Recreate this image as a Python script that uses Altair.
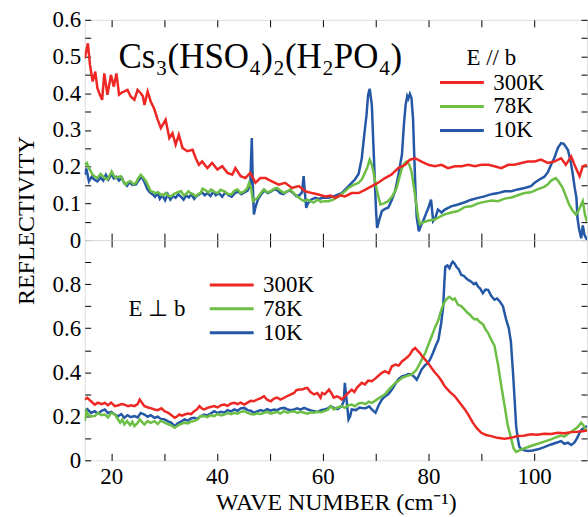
import altair as alt
import pandas as pd

# ---------------- data ----------------
series_names = ["300K", "78K", "10K"]
series_colors = ["#ED2824", "#6CBE45", "#2457A5"]

# Top panel: E // b
top_red_x = [15.0, 15.6, 16.0, 16.5, 17.0, 17.4, 17.9, 18.3, 18.7, 19.3, 19.96, 20.5, 21.0, 21.5, 22.0, 22.5, 23.1, 23.7, 24.4, 25.0, 25.6, 26.0, 26.3, 26.9, 27.5, 28.1, 28.8, 29.4, 29.9, 30.3, 31.0, 31.6, 32.2, 32.8, 33.5, 34.4, 35.4, 36.0, 36.6, 37.2, 38.2, 39.1, 40.1, 41.0, 42.0, 42.9, 43.5, 44.5, 45.4, 46.3, 47.3, 48.2, 49.2, 50.4, 51.7, 52.9, 54.2, 55.5, 56.7, 58.0, 59.2, 60.5, 61.5, 62.4, 63.3, 64.2, 65.5, 66.8, 68.0, 69.3, 70.5, 71.8, 73.0, 74.3, 75.6, 76.5, 77.5, 78.7, 80.0, 81.2, 82.5, 83.7, 85.0, 86.3, 87.5, 88.8, 90.0, 91.3, 92.5, 93.8, 95.1, 96.3, 97.6, 98.8, 100.1, 101.3, 102.6, 103.8, 105.1, 106.0, 107.0, 107.9, 108.6, 109.2, 110.0]
top_red_y = [0.495, 0.536, 0.477, 0.432, 0.459, 0.414, 0.395, 0.382, 0.454, 0.396, 0.450, 0.418, 0.454, 0.396, 0.402, 0.405, 0.409, 0.391, 0.382, 0.409, 0.400, 0.392, 0.368, 0.405, 0.377, 0.359, 0.328, 0.305, 0.318, 0.328, 0.278, 0.291, 0.260, 0.287, 0.251, 0.242, 0.246, 0.223, 0.205, 0.214, 0.196, 0.210, 0.192, 0.201, 0.183, 0.178, 0.196, 0.174, 0.169, 0.183, 0.156, 0.169, 0.169, 0.160, 0.151, 0.156, 0.142, 0.147, 0.133, 0.128, 0.124, 0.119, 0.121, 0.115, 0.122, 0.119, 0.128, 0.128, 0.137, 0.147, 0.156, 0.169, 0.178, 0.196, 0.205, 0.219, 0.223, 0.214, 0.205, 0.201, 0.205, 0.196, 0.201, 0.201, 0.205, 0.201, 0.205, 0.205, 0.201, 0.196, 0.205, 0.205, 0.210, 0.214, 0.214, 0.219, 0.210, 0.214, 0.223, 0.205, 0.228, 0.196, 0.174, 0.201, 0.205]

top_green_x = [15.0, 15.4, 15.8, 16.5, 17.0, 17.4, 18.0, 18.4, 18.9, 19.3, 19.7, 20.1, 20.5, 20.9, 21.4, 21.8, 22.3, 22.8, 23.2, 23.7, 24.2, 24.7, 25.1, 25.6, 26.1, 26.6, 27.1, 27.5, 28.0, 28.4, 28.9, 29.4, 29.9, 30.3, 30.8, 31.3, 31.8, 32.2, 32.7, 33.2, 33.7, 34.1, 34.6, 35.0, 35.5, 36.0, 36.5, 36.9, 37.3, 37.8, 38.4, 38.9, 39.5, 40.1, 40.7, 41.4, 42.0, 42.7, 43.3, 43.9, 44.5, 45.2, 45.7, 46.1, 46.5, 46.8, 47.2, 47.7, 48.3, 48.9, 49.5, 50.2, 50.8, 51.4, 52.0, 52.7, 53.3, 53.9, 54.5, 55.2, 55.8, 56.5, 57.1, 57.7, 58.3, 59.0, 59.7, 60.3, 61.1, 62.0, 63.0, 64.0, 64.9, 65.8, 66.8, 67.4, 68.0, 68.5, 68.9, 69.3, 69.6, 70.2, 70.9, 71.6, 72.4, 73.2, 74.0, 74.5, 75.0, 75.5, 75.9, 76.4, 76.8, 77.3, 77.8, 78.1, 78.4, 79.0, 79.7, 80.4, 81.2, 82.2, 83.1, 84.3, 85.6, 86.9, 88.1, 89.4, 90.6, 92.0, 93.2, 94.4, 95.7, 96.9, 98.2, 99.4, 100.6, 101.9, 102.6, 103.2, 104.1, 104.6, 105.4, 106.0, 106.6, 107.3, 107.9, 108.4, 108.9, 109.2, 109.6, 110.0]
top_green_y = [0.205, 0.210, 0.196, 0.178, 0.172, 0.169, 0.180, 0.174, 0.168, 0.165, 0.175, 0.187, 0.176, 0.169, 0.172, 0.174, 0.160, 0.151, 0.158, 0.160, 0.152, 0.156, 0.168, 0.178, 0.170, 0.160, 0.145, 0.133, 0.131, 0.128, 0.130, 0.124, 0.122, 0.128, 0.121, 0.119, 0.125, 0.128, 0.131, 0.133, 0.122, 0.124, 0.133, 0.128, 0.125, 0.119, 0.126, 0.128, 0.140, 0.136, 0.130, 0.138, 0.131, 0.128, 0.137, 0.133, 0.126, 0.124, 0.134, 0.138, 0.128, 0.133, 0.140, 0.156, 0.140, 0.106, 0.110, 0.115, 0.128, 0.138, 0.130, 0.133, 0.140, 0.142, 0.135, 0.128, 0.133, 0.138, 0.128, 0.119, 0.112, 0.106, 0.110, 0.106, 0.102, 0.110, 0.104, 0.106, 0.106, 0.110, 0.119, 0.130, 0.142, 0.150, 0.156, 0.165, 0.183, 0.200, 0.219, 0.205, 0.187, 0.140, 0.097, 0.100, 0.106, 0.120, 0.142, 0.170, 0.196, 0.210, 0.214, 0.205, 0.187, 0.140, 0.088, 0.060, 0.043, 0.048, 0.052, 0.054, 0.056, 0.064, 0.070, 0.075, 0.079, 0.090, 0.092, 0.100, 0.104, 0.108, 0.106, 0.113, 0.116, 0.122, 0.128, 0.130, 0.138, 0.145, 0.152, 0.162, 0.169, 0.160, 0.142, 0.120, 0.097, 0.080, 0.070, 0.080, 0.097, 0.106, 0.070, 0.050]

top_blue_x = [15.0, 15.3, 15.8, 16.3, 16.8, 17.4, 18.0, 18.5, 19.0, 19.5, 20.1, 20.5, 21.0, 21.5, 22.0, 22.5, 23.0, 23.5, 24.0, 24.7, 25.3, 25.8, 26.3, 26.8, 27.3, 27.8, 28.3, 28.8, 29.2, 29.7, 30.2, 30.7, 31.2, 31.7, 32.2, 32.7, 33.2, 33.7, 34.2, 34.7, 35.2, 35.7, 36.2, 36.7, 37.2, 37.7, 38.2, 38.8, 39.3, 39.8, 40.4, 41.0, 41.6, 42.2, 42.8, 43.4, 44.0, 44.6, 45.2, 45.8, 46.3, 46.6, 46.8, 47.0, 47.3, 47.8, 48.4, 49.0, 49.6, 50.2, 50.8, 51.4, 52.0, 52.6, 53.2, 53.8, 54.4, 55.0, 55.6, 56.1, 56.4, 56.7, 56.9, 57.2, 57.8, 58.6, 59.3, 60.0, 61.1, 62.3, 63.6, 64.9, 66.1, 66.8, 67.4, 67.9, 68.3, 68.6, 68.9, 69.3, 69.6, 69.8, 70.1, 70.3, 70.7, 71.2, 71.8, 72.4, 73.1, 73.7, 74.3, 75.0, 75.4, 75.7, 76.0, 76.2, 76.5, 76.8, 77.1, 77.3, 77.6, 77.8, 78.2, 78.6, 79.0, 79.5, 80.0, 80.5, 80.9, 81.3, 81.8, 82.5, 83.1, 84.3, 85.6, 86.9, 88.1, 89.4, 90.6, 91.9, 93.2, 94.4, 95.7, 96.9, 98.2, 99.4, 100.1, 101.0, 101.9, 102.6, 103.2, 103.8, 104.5, 105.1, 105.6, 106.4, 106.9, 107.3, 107.7, 108.0, 108.2, 108.5, 108.9, 109.2, 109.5, 110.0]
top_blue_y = [0.178, 0.195, 0.160, 0.172, 0.165, 0.160, 0.170, 0.162, 0.178, 0.165, 0.180, 0.168, 0.172, 0.162, 0.170, 0.155, 0.148, 0.158, 0.150, 0.152, 0.165, 0.172, 0.158, 0.140, 0.130, 0.125, 0.118, 0.128, 0.112, 0.122, 0.108, 0.125, 0.110, 0.120, 0.115, 0.125, 0.118, 0.110, 0.122, 0.116, 0.125, 0.112, 0.120, 0.125, 0.130, 0.122, 0.128, 0.120, 0.132, 0.122, 0.128, 0.118, 0.130, 0.122, 0.118, 0.128, 0.132, 0.125, 0.130, 0.135, 0.150, 0.278, 0.150, 0.070, 0.090, 0.112, 0.125, 0.135, 0.128, 0.132, 0.138, 0.136, 0.128, 0.125, 0.132, 0.135, 0.128, 0.120, 0.122, 0.130, 0.174, 0.120, 0.088, 0.100, 0.110, 0.115, 0.112, 0.115, 0.115, 0.120, 0.128, 0.147, 0.165, 0.180, 0.223, 0.290, 0.341, 0.395, 0.412, 0.369, 0.260, 0.187, 0.080, 0.033, 0.055, 0.079, 0.085, 0.088, 0.110, 0.133, 0.175, 0.233, 0.320, 0.369, 0.392, 0.385, 0.398, 0.387, 0.330, 0.242, 0.120, 0.061, 0.024, 0.040, 0.052, 0.070, 0.088, 0.110, 0.052, 0.060, 0.083, 0.075, 0.083, 0.092, 0.097, 0.103, 0.110, 0.115, 0.119, 0.125, 0.128, 0.133, 0.133, 0.138, 0.142, 0.147, 0.156, 0.165, 0.172, 0.185, 0.205, 0.223, 0.251, 0.264, 0.262, 0.245, 0.215, 0.180, 0.140, 0.115, 0.060, 0.030, 0.005, 0.040, 0.015, 0.000]

# Bottom panel: E ⊥ b
bot_red_x = [15.0, 15.5, 16.2, 16.9, 17.5, 18.2, 18.8, 19.4, 20.0, 20.7, 21.4, 22.0, 22.5, 23.2, 23.8, 24.4, 25.0, 25.4, 25.8, 26.3, 27.0, 27.6, 28.2, 28.8, 29.5, 30.1, 30.8, 31.4, 32.0, 32.5, 32.9, 33.4, 33.9, 34.5, 35.1, 35.7, 36.2, 36.7, 37.2, 37.6, 38.2, 38.8, 39.5, 40.1, 40.8, 41.4, 42.0, 42.7, 43.3, 43.9, 44.5, 45.2, 45.8, 46.4, 47.0, 47.6, 48.3, 48.9, 49.5, 50.2, 50.8, 51.4, 52.0, 52.7, 53.3, 53.9, 54.6, 55.0, 55.5, 56.1, 56.6, 57.1, 57.7, 58.4, 59.0, 59.6, 59.9, 60.4, 61.2, 61.8, 62.1, 62.7, 63.2, 63.6, 64.2, 64.8, 65.5, 66.0, 66.5, 67.4, 68.0, 68.6, 69.3, 70.0, 70.6, 71.2, 71.8, 72.5, 73.1, 73.8, 74.4, 75.0, 75.6, 76.1, 76.5, 77.0, 77.5, 78.0, 78.4, 78.9, 79.4, 80.0, 80.6, 81.2, 81.9, 82.5, 83.1, 84.0, 85.0, 85.9, 86.9, 87.6, 88.4, 89.2, 90.0, 90.9, 91.9, 93.0, 94.4, 95.6, 96.9, 98.0, 99.4, 100.6, 101.9, 103.2, 104.5, 105.7, 107.0, 108.2, 109.5, 110.0]
bot_red_y = [0.276, 0.284, 0.268, 0.253, 0.262, 0.255, 0.261, 0.250, 0.262, 0.246, 0.250, 0.256, 0.253, 0.246, 0.250, 0.246, 0.255, 0.276, 0.262, 0.246, 0.240, 0.236, 0.231, 0.228, 0.236, 0.223, 0.216, 0.205, 0.193, 0.200, 0.208, 0.203, 0.208, 0.212, 0.210, 0.223, 0.230, 0.246, 0.235, 0.231, 0.238, 0.242, 0.246, 0.240, 0.250, 0.253, 0.247, 0.258, 0.261, 0.255, 0.262, 0.253, 0.262, 0.270, 0.268, 0.276, 0.282, 0.291, 0.275, 0.268, 0.280, 0.285, 0.276, 0.284, 0.292, 0.298, 0.306, 0.318, 0.321, 0.321, 0.326, 0.329, 0.310, 0.299, 0.305, 0.284, 0.306, 0.300, 0.321, 0.299, 0.284, 0.290, 0.285, 0.276, 0.290, 0.305, 0.321, 0.310, 0.330, 0.352, 0.345, 0.362, 0.359, 0.372, 0.385, 0.397, 0.405, 0.395, 0.427, 0.435, 0.430, 0.449, 0.460, 0.470, 0.480, 0.500, 0.510, 0.497, 0.487, 0.470, 0.457, 0.440, 0.419, 0.400, 0.381, 0.360, 0.336, 0.312, 0.291, 0.262, 0.231, 0.205, 0.171, 0.145, 0.125, 0.115, 0.110, 0.102, 0.098, 0.102, 0.110, 0.112, 0.118, 0.116, 0.121, 0.120, 0.125, 0.123, 0.128, 0.130, 0.133, 0.135]

bot_green_x = [15.0, 15.3, 15.7, 16.3, 16.9, 17.5, 18.2, 18.8, 19.4, 20.0, 20.7, 21.2, 21.7, 22.1, 22.5, 23.0, 23.6, 24.0, 24.4, 25.0, 25.4, 25.9, 26.3, 26.9, 27.5, 28.2, 28.8, 29.4, 30.1, 30.7, 31.4, 32.0, 32.6, 33.2, 33.9, 34.5, 35.1, 35.7, 36.3, 36.9, 37.6, 38.2, 38.8, 39.5, 40.1, 40.8, 41.4, 42.0, 42.7, 43.3, 43.9, 44.5, 45.2, 45.8, 46.4, 47.0, 47.6, 48.3, 48.9, 49.5, 50.2, 50.8, 51.4, 52.0, 52.7, 53.3, 53.9, 54.6, 55.2, 55.8, 56.5, 57.1, 57.8, 58.4, 59.0, 59.7, 60.3, 61.0, 61.5, 62.1, 62.8, 63.6, 64.2, 64.9, 65.5, 66.1, 66.8, 67.4, 68.1, 68.7, 69.3, 69.9, 70.5, 71.2, 71.8, 72.4, 73.1, 73.7, 74.4, 75.0, 75.6, 76.2, 76.8, 77.3, 77.7, 78.1, 78.7, 79.4, 80.0, 80.6, 81.2, 81.9, 82.4, 82.8, 83.2, 83.6, 84.0, 84.3, 84.6, 85.0, 85.3, 85.6, 86.2, 86.9, 87.4, 87.9, 88.4, 88.8, 89.2, 89.6, 90.0, 90.4, 90.8, 91.3, 91.9, 92.5, 93.2, 93.8, 94.4, 95.0, 95.7, 96.1, 96.6, 97.2, 98.2, 99.4, 100.7, 101.9, 103.2, 104.2, 105.1, 105.7, 106.4, 107.0, 107.6, 108.2, 108.9, 109.3, 109.7, 110.0]
bot_green_y = [0.178, 0.223, 0.205, 0.200, 0.201, 0.215, 0.205, 0.208, 0.195, 0.215, 0.208, 0.190, 0.171, 0.185, 0.163, 0.178, 0.160, 0.175, 0.155, 0.170, 0.186, 0.172, 0.163, 0.178, 0.170, 0.178, 0.165, 0.180, 0.171, 0.165, 0.158, 0.148, 0.158, 0.165, 0.171, 0.168, 0.176, 0.178, 0.185, 0.200, 0.201, 0.196, 0.205, 0.201, 0.210, 0.204, 0.208, 0.215, 0.210, 0.216, 0.212, 0.220, 0.223, 0.215, 0.210, 0.208, 0.213, 0.210, 0.216, 0.220, 0.212, 0.216, 0.220, 0.212, 0.223, 0.216, 0.220, 0.223, 0.215, 0.220, 0.216, 0.212, 0.218, 0.216, 0.220, 0.218, 0.223, 0.230, 0.246, 0.231, 0.240, 0.246, 0.238, 0.250, 0.253, 0.245, 0.258, 0.261, 0.255, 0.266, 0.261, 0.270, 0.280, 0.291, 0.300, 0.318, 0.336, 0.350, 0.362, 0.374, 0.380, 0.385, 0.389, 0.400, 0.410, 0.427, 0.455, 0.487, 0.525, 0.562, 0.600, 0.638, 0.680, 0.706, 0.725, 0.736, 0.742, 0.735, 0.729, 0.735, 0.720, 0.706, 0.700, 0.683, 0.670, 0.660, 0.646, 0.640, 0.642, 0.630, 0.623, 0.615, 0.595, 0.578, 0.547, 0.520, 0.430, 0.336, 0.250, 0.160, 0.095, 0.055, 0.038, 0.045, 0.055, 0.065, 0.075, 0.085, 0.095, 0.105, 0.112, 0.108, 0.120, 0.130, 0.140, 0.150, 0.171, 0.160, 0.140, 0.133]

bot_blue_x = [15.0, 15.5, 16.2, 16.9, 17.5, 18.2, 18.8, 19.4, 20.0, 20.7, 21.3, 21.9, 22.5, 23.1, 23.7, 24.4, 25.0, 25.6, 26.3, 26.9, 27.5, 28.2, 28.8, 29.4, 30.1, 30.7, 31.4, 32.0, 32.6, 33.2, 33.9, 34.5, 35.1, 35.7, 36.3, 36.9, 37.6, 38.2, 38.8, 39.5, 40.1, 40.8, 41.4, 42.0, 42.7, 43.3, 43.9, 44.5, 45.2, 45.8, 46.4, 47.0, 47.6, 48.3, 48.9, 49.5, 50.2, 50.8, 51.4, 52.0, 52.7, 53.3, 53.9, 54.6, 55.2, 55.8, 56.5, 57.1, 57.8, 58.4, 59.0, 59.7, 60.3, 61.0, 61.5, 62.1, 62.8, 63.6, 64.0, 64.2, 64.5, 64.9, 65.2, 65.5, 66.3, 67.0, 67.4, 68.1, 68.8, 69.3, 69.7, 70.0, 70.6, 71.2, 71.8, 72.4, 73.1, 73.7, 74.4, 75.0, 75.6, 76.2, 76.8, 77.3, 77.8, 78.2, 78.7, 79.3, 79.8, 80.3, 80.9, 81.4, 81.9, 82.4, 82.8, 83.0, 83.2, 83.6, 84.0, 84.3, 84.6, 84.9, 85.3, 85.8, 86.2, 86.7, 87.2, 87.6, 88.1, 88.6, 89.0, 89.4, 89.8, 90.3, 90.8, 91.3, 91.8, 92.1, 92.5, 93.0, 93.5, 94.1, 94.7, 95.2, 95.6, 96.0, 96.3, 96.6, 96.9, 97.2, 97.6, 98.2, 98.8, 99.7, 100.7, 101.9, 103.2, 104.2, 105.1, 105.7, 106.4, 107.0, 107.6, 108.1, 108.6, 109.0, 109.5, 110.0]
bot_blue_y = [0.223, 0.232, 0.215, 0.223, 0.212, 0.225, 0.231, 0.215, 0.220, 0.208, 0.200, 0.210, 0.193, 0.205, 0.196, 0.201, 0.195, 0.215, 0.208, 0.198, 0.205, 0.193, 0.198, 0.188, 0.186, 0.178, 0.170, 0.155, 0.168, 0.176, 0.186, 0.180, 0.190, 0.193, 0.188, 0.200, 0.208, 0.203, 0.212, 0.223, 0.215, 0.220, 0.216, 0.228, 0.222, 0.231, 0.225, 0.236, 0.238, 0.228, 0.225, 0.216, 0.222, 0.228, 0.223, 0.232, 0.225, 0.231, 0.228, 0.236, 0.238, 0.232, 0.228, 0.231, 0.236, 0.230, 0.238, 0.232, 0.226, 0.223, 0.220, 0.228, 0.231, 0.236, 0.246, 0.238, 0.232, 0.246, 0.270, 0.352, 0.280, 0.186, 0.200, 0.231, 0.228, 0.240, 0.238, 0.236, 0.245, 0.231, 0.222, 0.216, 0.250, 0.276, 0.290, 0.300, 0.321, 0.345, 0.370, 0.381, 0.385, 0.392, 0.389, 0.380, 0.366, 0.385, 0.412, 0.430, 0.440, 0.457, 0.490, 0.520, 0.547, 0.620, 0.698, 0.800, 0.879, 0.885, 0.872, 0.890, 0.902, 0.895, 0.879, 0.865, 0.842, 0.838, 0.825, 0.818, 0.811, 0.800, 0.805, 0.789, 0.780, 0.759, 0.775, 0.774, 0.750, 0.740, 0.729, 0.735, 0.721, 0.700, 0.640, 0.600, 0.540, 0.400, 0.280, 0.155, 0.100, 0.062, 0.050, 0.045, 0.042, 0.045, 0.050, 0.060, 0.072, 0.080, 0.087, 0.075, 0.080, 0.070, 0.080, 0.100, 0.125, 0.140, 0.148, 0.155]

x_ticks = [20, 30, 40, 50, 60, 70, 80, 90, 100]
top_y_ticks = [0.0, 0.05, 0.1, 0.15, 0.2, 0.25, 0.3, 0.35, 0.4, 0.45, 0.5, 0.55, 0.6]
bot_y_ticks = [0.0, 0.1, 0.2, 0.3, 0.4, 0.5, 0.6, 0.7, 0.8, 0.9]

formula = "Cs\u2083(HSO\u2084)\u2082(H\u2082PO\u2084)"
FONT = "Liberation Serif"
W, H = 504, 221


def make_df(triples):
    rows = []
    for name, xs, ys in triples:
        for a, b in zip(xs, ys):
            rows.append({"x": a, "v": b, "series": name})
    return pd.DataFrame(rows)


top_df = make_df([("10K", top_blue_x, top_blue_y), ("78K", top_green_x, top_green_y), ("300K", top_red_x, top_red_y)])
bot_df = make_df([("10K", bot_blue_x, bot_blue_y), ("78K", bot_green_x, bot_green_y), ("300K", bot_red_x, bot_red_y)])

xscale = alt.Scale(domain=[15, 110], nice=False, zero=False)


def panel(df, ydom, yticks, ylabel_expr, bottom_labels, legend, ytitle=None, extra=None):
    yscale = alt.Scale(domain=ydom, nice=False, zero=False)
    xaxis_kw = dict(orient="bottom", values=x_ticks, tickSize=7, offset=-7, domain=False, grid=False,
                    tickColor="black", labelFont=FONT, labelFontSize=23, labelColor="black", labelPadding=5)
    if bottom_labels:
        xaxis_kw.update(labelExpr="datum.value % 20 == 0 ? datum.label : ''",
                        title="WAVE NUMBER (cm\u207b\u00b9)", titleFont=FONT, titleFontSize=24,
                        titleFontWeight="normal", titleColor="black", titleY=56, titleBaseline="alphabetic")
    else:
        xaxis_kw.update(labels=False, title=None)
    yaxis_kw = dict(orient="left", values=yticks, tickSize=6, offset=-6, domain=False, grid=False,
                    tickColor="black", labelFont=FONT, labelFontSize=23, labelColor="black",
                    labelPadding=4, labelExpr=ylabel_expr)
    if ytitle:
        yaxis_kw.update(title=ytitle, titleFont=FONT, titleFontSize=24, titleFontWeight="normal",
                        titleColor="black", titleAngle=270, titleX=-57, titleY=201,
                        titleBaseline="alphabetic", titleAlign="center")
    else:
        yaxis_kw.update(title=None)

    base = alt.Chart(df)
    lines = base.mark_line(strokeWidth=2.5, clip=True).encode(
        x=alt.X("x:Q", scale=xscale, axis=alt.Axis(**xaxis_kw)),
        y=alt.Y("v:Q", scale=yscale, axis=alt.Axis(**yaxis_kw)),
        color=alt.Color("series:N", scale=alt.Scale(domain=series_names, range=series_colors), legend=legend),
    )
    frame = base.mark_line(opacity=0).encode(
        x=alt.X("x:Q", scale=xscale, axis=alt.Axis(orient="top", values=x_ticks, tickSize=7, offset=-7,
                                                    domain=False, grid=False, labels=False, title=None,
                                                    tickColor="black")),
        y=alt.Y("v:Q", scale=yscale, axis=alt.Axis(orient="right", values=yticks, tickSize=6, offset=-6,
                                                    domain=False, grid=False, labels=False, title=None,
                                                    tickColor="black")),
    )
    layers = [lines, frame]
    if extra is not None:
        layers.append(extra)
    return alt.layer(*layers).resolve_axis(x="independent", y="independent").properties(width=W, height=H)


legend_common = dict(orient="none", symbolType="stroke", symbolSize=1936, symbolStrokeWidth=3,
                     clipHeight=24, labelFont=FONT, labelFontSize=23, labelColor="black", labelOffset=8,
                     titleFont=FONT, titleFontSize=23, titleFontWeight="normal", titleColor="black",
                     padding=0, rowPadding=0)

top_legend = alt.Legend(title="E // b", legendX=355, legendY=27, titleOrient="top", titleAnchor="middle",
                        titlePadding=1, **legend_common)
bot_legend = alt.Legend(title="E \u22a5 b", legendX=44, legendY=33, titleOrient="left", titleAnchor="middle",
                        titlePadding=22, **legend_common)

formula_text = alt.Chart(pd.DataFrame({"t": [formula]})).mark_text(
    font=FONT, fontSize=35, align="left", baseline="alphabetic", color="black"
).encode(text="t:N", x=alt.value(34), y=alt.value(48))

top = panel(top_df, [0, 0.6], top_y_ticks,
            "round(datum.value*20) % 2 == 0 ? format(datum.value, '.1~f') : ''",
            False, top_legend, ytitle="REFLECTIVITY", extra=formula_text)
bottom = panel(bot_df, [0, 1.0], bot_y_ticks,
               "round(datum.value*10) % 2 == 0 ? format(datum.value, '.1~f') : ''",
               True, bot_legend)

chart = alt.vconcat(top, bottom, spacing=0, bounds="flush").resolve_scale(
    y="independent", color="independent"
).resolve_legend(color="independent").properties(
    padding={"left": 14, "top": 7, "right": 0, "bottom": 4}, background="white"
).configure_view(stroke="black", strokeWidth=1.2).configure(
    font=FONT
).configure_axis(
    labelFont=FONT, titleFont=FONT
).configure_legend(
    labelFont=FONT, titleFont=FONT
).configure_text(font=FONT)

chart.save("out.html", embed_options={"renderer": "svg", "actions": False})
